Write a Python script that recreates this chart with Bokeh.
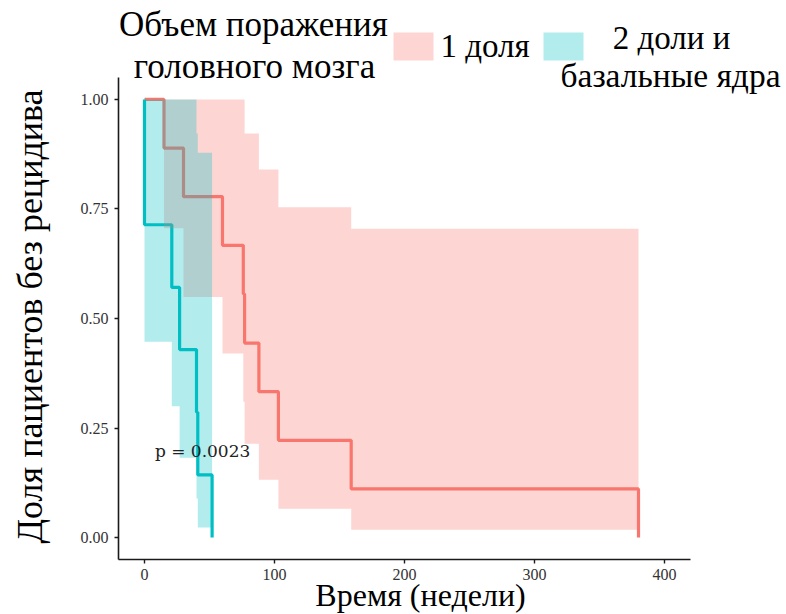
import math
from bokeh.plotting import figure
from bokeh.models import Range1d, Label, BoxAnnotation, FixedTicker, NumeralTickFormatter
from bokeh.embed import file_html
from bokeh.resources import INLINE

# Group "1 доля": event times (weeks), survival estimate and 95% CI per interval
lobe_time = [0, 15, 30, 60, 76, 77, 88, 103, 159, 380]
lobe_surv = [1.0, 0.889, 0.778, 0.667, 0.556, 0.444, 0.333, 0.222, 0.111, 0.0]
lobe_upper = [1.0, 1.0, 1.0, 1.0, 1.0, 0.922, 0.840, 0.754, 0.705]
lobe_lower = [1.0, 0.706, 0.549, 0.420, 0.310, 0.214, 0.132, 0.066, 0.018]

# Group "2 доли и базальные ядра"
basal_time = [0, 0, 21, 27, 40, 41, 52]
basal_surv = [1.0, 0.714, 0.571, 0.429, 0.286, 0.143, 0.0]
basal_upper = [1.0, 1.0, 1.0, 1.0, 0.922, 0.878]
basal_lower = [1.0, 0.447, 0.300, 0.182, 0.089, 0.023]

x_ticks = [0, 100, 200, 300, 400]
y_ticks = [0.0, 0.25, 0.5, 0.75, 1.0]
p_value_text = "p = 0.0023"

RED = "#F8766D"
TEAL = "#00BFC4"
SERIF = "Liberation Serif"

W, H = 786, 614
# panel (axes box) inside the canvas, in pixels, and the data limits it shows
PL, PR, PT, PB = 118, 690, 77, 559
X0, X1 = -20, 420
Y0, Y1 = -0.05, 1.05
kx = (PR - PL) / (X1 - X0)
ky = (PB - PT) / (Y1 - Y0)


def step_band(t, lo, hi):
    """Turn per-interval CI bounds into step-shaped area coordinates."""
    xs, y1, y2 = [], [], []
    for i in range(len(t) - 1):
        xs += [t[i], t[i + 1]]
        y1 += [lo[i], lo[i]]
        y2 += [hi[i], hi[i]]
    return xs, y1, y2


# the frame spans the whole canvas; axes are pinned at the panel edges
p = figure(width=W, height=H,
           x_range=Range1d(X0 - PL / kx, X1 + (W - PR) / kx),
           y_range=Range1d(Y0 - (H - PB) / ky, Y1 + PT / ky),
           min_border=0, output_backend="svg", toolbar_location=None)
p.background_fill_color = "white"
p.border_fill_color = "white"
p.outline_line_color = None
p.xgrid.visible = False
p.ygrid.visible = False

# survival curves (drawn first, ribbons lie over them)
p.step(lobe_time, lobe_surv, mode="after", line_color=RED, line_width=3.2)
p.step(basal_time, basal_surv, mode="after", line_color=TEAL, line_width=3.2)

# confidence ribbons
bx, blo, bhi = step_band(lobe_time, lobe_lower, lobe_upper)
p.varea(x=bx, y1=blo, y2=bhi, fill_color=RED, fill_alpha=0.3)
bx, blo, bhi = step_band(basal_time, basal_lower, basal_upper)
p.varea(x=bx, y1=blo, y2=bhi, fill_color=TEAL, fill_alpha=0.3)

# axes
xa, ya = p.xaxis[0], p.yaxis[0]
xa.fixed_location = Y0
ya.fixed_location = X0
xa.bounds = (X0, X1)
ya.bounds = (Y0, Y1)
for ax in (xa, ya):
    ax.axis_line_color = "#1a1a1a"
    ax.axis_line_width = 1.6
    ax.major_tick_line_color = "#1a1a1a"
    ax.major_tick_line_width = 1.4
    ax.major_tick_out = 4
    ax.major_tick_in = 0
    ax.minor_tick_line_color = None
    ax.major_label_text_font = SERIF
    ax.major_label_text_font_size = "16px"
    ax.major_label_text_color = "#333333"
xa.ticker = FixedTicker(ticks=x_ticks)
ya.ticker = FixedTicker(ticks=y_ticks)
ya.formatter = NumeralTickFormatter(format="0.00")
xa.major_label_standoff = 5
ya.major_label_standoff = 6


def label(text, cx, cy, size, align="left", rotated=False, font=SERIF):
    # cx, cy: canvas pixels (top-left origin) of the text baseline anchor
    drop = 0.39 * size  # baseline sits this far below the anchor when rendered
    if rotated:
        x, y, angle = cx - drop, H - cy, math.pi / 2
    else:
        x, y, angle = cx, H - cy + drop, 0.0
    p.add_layout(Label(x=x, y=y, x_units="screen", y_units="screen",
                       text=text, text_font=font, text_font_size=f"{size}px",
                       text_align=align, text_baseline="alphabetic",
                       text_color="black", angle=angle))


def swatch(color, left, right, top, bottom):
    p.add_layout(BoxAnnotation(left=left, right=right, top=H - top, bottom=H - bottom,
                               left_units="screen", right_units="screen",
                               top_units="screen", bottom_units="screen",
                               fill_color=color, fill_alpha=0.3, line_color=None))


# axis titles
label("Время (недели)", 420, 607, 32, align="center")
label("Доля пациентов без рецидива", 44, 316, 36, align="center", rotated=True)

# legend
label("Объем поражения", 253, 38, 35, align="center")
label("головного мозга", 254, 80, 35, align="center")
swatch(RED, 393, 433, 32, 60)
label("1 доля", 440, 58, 33)
swatch(TEAL, 543, 583, 32, 60)
label("2 доли и", 671, 50, 33, align="center")
label("базальные ядра", 670, 88, 33.5, align="center")

# log-rank p-value
p.add_layout(Label(x=8, y=0.197, text=p_value_text, text_font="DejaVu Serif",
                   text_font_size="17px", text_baseline="alphabetic",
                   text_color="#222222"))

open("out.html", "w").write(file_html(p, INLINE))
